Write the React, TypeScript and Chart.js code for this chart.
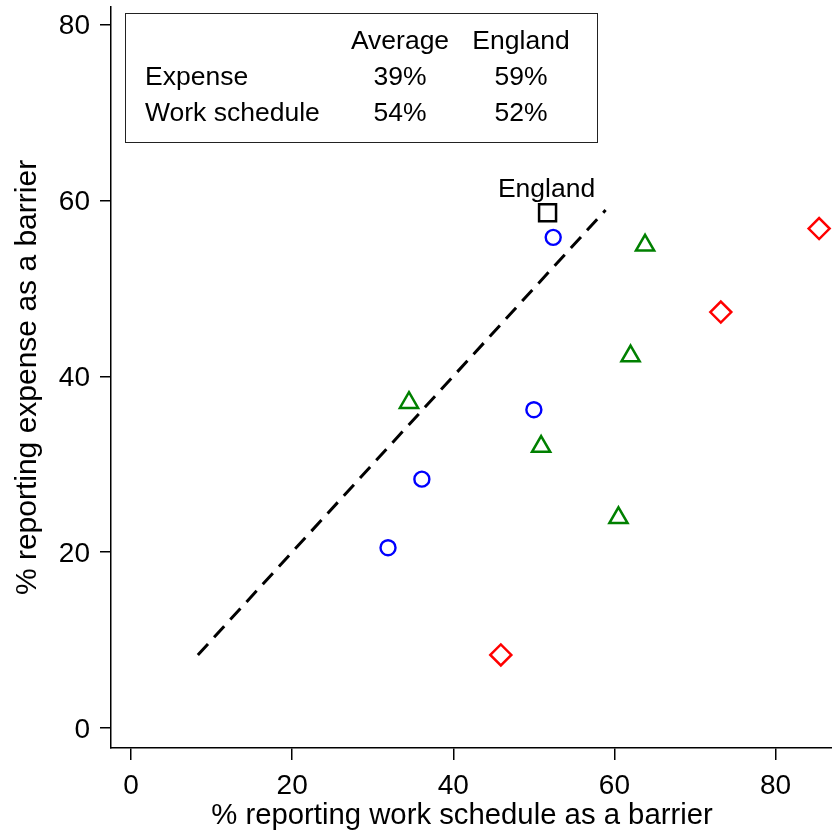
import React, { useEffect, useRef } from 'react';
import { Chart, registerables } from 'chart.js';

Chart.register(...registerables);

const FONT = '"Liberation Sans", Arial, Helvetica, sans-serif';

// Axis tick values
const tickValues = [0, 20, 40, 60, 80];

// Series values (x = % work schedule, y = % expense)
const circleX = [31.9, 36.1, 50.0, 52.4];
const circleY = [20.5, 28.3, 36.2, 55.8];
const triangleX = [34.5, 50.9, 60.5, 62.0, 63.8];
const triangleY = [37.0, 32.0, 23.9, 42.3, 54.9];
const diamondX = [45.9, 73.2, 85.4];
const diamondY = [8.3, 47.3, 56.8];
const englandX = [51.7];
const englandY = [58.6];
const englandLabel = 'England';
const refLineX = [8.3, 58.9];
const refLineY = [8.3, 58.9];

// Summary table
const tableHeader = ['Average', 'England'];
const tableRowLabels = ['Expense', 'Work schedule'];
const tableAverage = ['39%', '54%'];
const tableEngland = ['59%', '52%'];

const xTitle = '% reporting work schedule as a barrier';
const yTitle = '% reporting expense as a barrier';

const pts = (xs: number[], ys: number[]) => xs.map((x, i) => ({ x, y: ys[i] }));

const overlayPlugin = {
  id: 'overlay',
  afterDraw(chart: any) {
    const ctx = chart.ctx as CanvasRenderingContext2D;
    const xs = chart.scales.x;
    const ys = chart.scales.y;
    ctx.save();
    // table box
    ctx.strokeStyle = '#222';
    ctx.lineWidth = 1;
    ctx.strokeRect(125.5, 13.5, 472, 129);
    ctx.fillStyle = '#000';
    ctx.font = `26.5px ${FONT}`;
    ctx.textBaseline = 'alphabetic';
    const colAvg = 400;
    const colEng = 521;
    const rowY = [49, 85, 121];
    ctx.textAlign = 'center';
    ctx.fillText(tableHeader[0], colAvg, rowY[0]);
    ctx.fillText(tableHeader[1], colEng, rowY[0]);
    tableRowLabels.forEach((lab, i) => {
      ctx.textAlign = 'left';
      ctx.fillText(lab, 145, rowY[i + 1]);
      ctx.textAlign = 'center';
      ctx.fillText(tableAverage[i], colAvg, rowY[i + 1]);
      ctx.fillText(tableEngland[i], colEng, rowY[i + 1]);
    });
    // England label
    const px = xs.getPixelForValue(englandX[0]);
    const py = ys.getPixelForValue(englandY[0]);
    ctx.textAlign = 'center';
    ctx.fillText(englandLabel, px - 1, py - 16);
    // x axis title
    ctx.font = `29.3px ${FONT}`;
    ctx.textBaseline = 'middle';
    ctx.textAlign = 'center';
    ctx.fillText(xTitle, 462, 815.5);
    ctx.restore();
  },
};

export default function App() {
  const ref = useRef<HTMLCanvasElement | null>(null);
  useEffect(() => {
    if (!ref.current) return;
    const tickFont = { family: FONT, size: 28 };
    const chart = new Chart(ref.current, {
      type: 'scatter',
      data: {
        datasets: [
          {
            type: 'line',
            data: pts(refLineX, refLineY),
            borderColor: '#000',
            borderWidth: 3,
            borderDash: [15, 9],
            pointRadius: 0,
            showLine: true,
            fill: false,
            clip: false,
          } as any,
          {
            data: pts(circleX, circleY),
            pointStyle: 'circle',
            pointRadius: 7.5,
            borderColor: '#0000ff',
            backgroundColor: 'rgba(0,0,0,0)',
            borderWidth: 2.4,
            clip: false,
          },
          {
            data: pts(triangleX, triangleY),
            pointStyle: 'triangle',
            pointRadius: 10.5,
            borderColor: '#008000',
            backgroundColor: 'rgba(0,0,0,0)',
            borderWidth: 2.5,
            clip: false,
          },
          {
            data: pts(diamondX, diamondY),
            pointStyle: 'rectRot',
            pointRadius: 10.5,
            borderColor: '#ff0000',
            backgroundColor: 'rgba(0,0,0,0)',
            borderWidth: 2.5,
            clip: false,
          },
          {
            data: pts(englandX, englandY),
            pointStyle: 'rect',
            pointRadius: 12,
            borderColor: '#000',
            backgroundColor: 'rgba(0,0,0,0)',
            borderWidth: 2.5,
            clip: false,
          },
        ] as any,
      },
      options: {
        animation: false,
        responsive: true,
        maintainAspectRatio: false,
        layout: { autoPadding: false, padding: { top: 7, right: 0, left: 0, bottom: 0 } },
        plugins: { legend: { display: false }, tooltip: { enabled: false } },
        scales: {
          x: {
            type: 'linear',
            min: -2.48,
            max: 87,
            afterBuildTicks: (s: any) => {
              s.ticks = tickValues.map((v) => ({ value: v }));
            },
            afterFit: (s: any) => {
              s.height = 87;
              s.paddingLeft = 0;
              s.paddingRight = 0;
            },
            ticks: { font: tickFont, color: '#000', padding: 9, maxRotation: 0, autoSkip: false },
            grid: { drawOnChartArea: false, drawTicks: true, tickLength: 12, color: '#000', lineWidth: 1.5 },
            border: { display: true, color: '#000', width: 1.5 },
            title: { display: false },
          },
          y: {
            type: 'linear',
            min: -2.28,
            max: 82,
            afterBuildTicks: (s: any) => {
              s.ticks = tickValues.map((v) => ({ value: v }));
            },
            afterFit: (s: any) => {
              s.width = 111;
              s.paddingTop = 0;
              s.paddingBottom = 0;
            },
            ticks: { font: tickFont, color: '#000', padding: 10, autoSkip: false, labelOffset: 2 },
            grid: { drawOnChartArea: false, drawTicks: true, tickLength: 11, color: '#000', lineWidth: 1.5 },
            border: { display: true, color: '#000', width: 1.5 },
            title: { display: true, text: yTitle, font: { family: FONT, size: 30 }, color: '#000', padding: { top: 10, bottom: 0 } },
          },
        },
      } as any,
      plugins: [overlayPlugin],
    });
    return () => chart.destroy();
  }, []);
  return (
    <div style={{ position: 'fixed', left: 0, top: 0, width: 832, height: 835, background: '#fff' }}>
      <canvas ref={ref} />
    </div>
  );
}
